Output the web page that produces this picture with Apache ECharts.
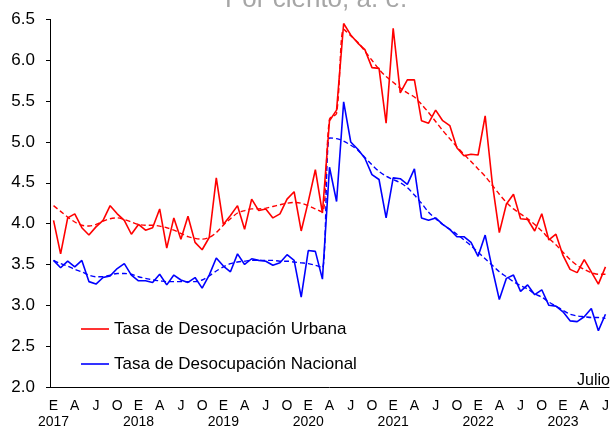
<!DOCTYPE html>
<html>
<head>
<meta charset="utf-8">
<script src="https://cdn.jsdelivr.net/npm/echarts@6/dist/echarts.min.js"></script>
<style>
  html, body { margin: 0; padding: 0; background: #fff; }
  #chart { width: 613px; height: 430px; }
</style>
</head>
<body>
<div id="chart"></div>
<script>
// monthly series, Jan 2017 .. Jul 2023
const years = [2017, 2018, 2019, 2020, 2021, 2022, 2023]
const monthLetters = ['E', 'F', 'M', 'A', 'M', 'J', 'J', 'A', 'S', 'O', 'N', 'D']
const lastMonth = 7

const urbana = [
  4.04, 3.63, 4.07, 4.12, 3.95, 3.86, 3.96, 4.04, 4.22, 4.12, 4.04, 3.87,
  3.99, 3.92, 3.95, 4.18, 3.70, 4.07, 3.81, 4.09, 3.77, 3.68, 3.83, 4.56,
  3.99, 4.10, 4.22, 3.93, 4.30, 4.16, 4.18, 4.07, 4.12, 4.30, 4.39, 3.91,
  4.27, 4.66, 4.13, 5.26, 5.39, 6.45, 6.31, 6.21, 6.13, 5.91, 5.90, 5.23,
  6.39, 5.60, 5.76, 5.76, 5.26, 5.23, 5.39, 5.26, 5.20, 4.93, 4.83, 4.85,
  4.84, 5.32, 4.50, 3.89, 4.24, 4.36, 4.06, 4.05, 3.91, 4.12, 3.80, 3.87,
  3.61, 3.44, 3.40, 3.56, 3.41, 3.26, 3.47
]
const nacional = [
  3.55, 3.46, 3.54, 3.47, 3.55, 3.29, 3.26, 3.34, 3.36, 3.45, 3.51, 3.37,
  3.30, 3.30, 3.28, 3.38, 3.25, 3.37, 3.31, 3.28, 3.34, 3.21, 3.37, 3.58,
  3.48, 3.41, 3.63, 3.50, 3.57, 3.55, 3.54, 3.49, 3.52, 3.62, 3.55, 3.10,
  3.67, 3.66, 3.32, 4.69, 4.27, 5.49, 5.00, 4.91, 4.80, 4.60, 4.54, 4.07,
  4.56, 4.55, 4.48, 4.67, 4.07, 4.04, 4.07, 3.99, 3.93, 3.84, 3.84, 3.77,
  3.60, 3.86, 3.45, 3.07, 3.33, 3.37, 3.17, 3.25, 3.13, 3.19, 3.00, 2.99,
  2.92, 2.81, 2.80, 2.86, 2.96, 2.69, 2.89
]
// tendencias (líneas punteadas)
const urbanaTend = [
  4.22, 4.15, 4.08, 4.02, 3.98, 3.97, 3.99, 4.03, 4.06, 4.07, 4.05, 4.02,
  3.99, 3.98, 3.98, 3.97, 3.95, 3.92, 3.88, 3.84, 3.82, 3.81, 3.83, 3.89,
  3.98, 4.06, 4.13, 4.16, 4.18, 4.18, 4.19, 4.21, 4.23, 4.25, 4.26, 4.25,
  4.22, 4.18, 4.14, 5.28, 5.35, 6.38, 6.30, 6.22, 6.11, 6.00, 5.89, 5.80,
  5.73, 5.66, 5.60, 5.55, 5.46, 5.36, 5.25, 5.14, 5.04, 4.94, 4.85, 4.76,
  4.67, 4.58, 4.47, 4.36, 4.26, 4.18, 4.12, 4.06, 3.99, 3.91, 3.82, 3.74,
  3.65, 3.56, 3.49, 3.44, 3.40, 3.38, 3.38
]
const nacionalTend = [
  3.55, 3.51, 3.48, 3.44, 3.41, 3.37, 3.35, 3.35, 3.37, 3.39, 3.39, 3.38,
  3.35, 3.33, 3.31, 3.30, 3.29, 3.29, 3.29, 3.29, 3.29, 3.31, 3.36, 3.42,
  3.47, 3.51, 3.53, 3.54, 3.55, 3.55, 3.55, 3.55, 3.54, 3.54, 3.53, 3.52,
  3.51, 3.49, 3.46, 5.05, 5.04, 5.01, 4.96, 4.90, 4.81, 4.72, 4.64, 4.58,
  4.54, 4.50, 4.44, 4.35, 4.25, 4.14, 4.06, 3.99, 3.93, 3.87, 3.80, 3.73,
  3.65, 3.57, 3.49, 3.41, 3.35, 3.29, 3.24, 3.20, 3.14, 3.10, 3.04, 2.99,
  2.94, 2.89, 2.87, 2.86, 2.85, 2.85, 2.84
]

const months = []
years.forEach(y => {
  for (let m = 1; m <= 12; m++) {
    if (y === years[years.length - 1] && m > lastMonth) break
    months.push(y + '-' + m)
  }
})

const font = "'Liberation Sans', Arial, sans-serif"
const RED = '#ff0000'
const BLUE = '#0000ff'

const myChart = echarts.init(document.getElementById('chart'), null, { renderer: 'canvas' })

const option = {
  animation: false,
  textStyle: { fontFamily: font, color: '#000' },
  grid: { left: 50, right: 4, top: 19.4, bottom: 38.6 },
  graphic: [
    {
      type: 'text', left: 225, top: -13,
      style: { text: 'Por ciento, a. e.', font: '26px ' + font, fill: '#a6a6a6' },
    },
    {
      type: 'text', right: 3, top: 373,
      style: { text: 'Julio', font: '16px ' + font, fill: '#000' },
    },
  ],
  legend: {
    data: ['Tasa de Desocupación Urbana', 'Tasa de Desocupación Nacional'],
    orient: 'vertical',
    icon: 'rect',
    left: 76,
    top: 314,
    itemWidth: 28,
    itemHeight: 1.6,
    itemGap: 15,
    textStyle: { fontSize: 17, lineHeight: 20, fontFamily: font, color: '#000' },
  },
  xAxis: {
    type: 'category',
    data: months,
    boundaryGap: true,
    axisLine: { lineStyle: { color: '#000', width: 1 } },
    axisTick: { interval: 2, length: 5, lineStyle: { color: '#000' } },
    axisLabel: {
      interval: 2,
      margin: 11,
      fontSize: 14,
      lineHeight: 16,
      color: '#000',
      formatter(value) {
        const [y, m] = value.split('-')
        const letter = monthLetters[Number(m) - 1]
        return m === '1' ? letter + '\n' + y : letter
      },
    },
    splitLine: { show: false },
  },
  yAxis: {
    type: 'value',
    min: 2,
    max: 6.5,
    interval: 0.5,
    axisLine: { show: true, lineStyle: { color: '#000', width: 1 } },
    axisTick: { show: true, length: 4, lineStyle: { color: '#000' } },
    axisLabel: {
      margin: 15,
      fontSize: 17,
      color: '#000',
      formatter: v => v.toFixed(1),
    },
    splitLine: { show: false },
  },
  series: [
    {
      name: 'Tasa de Desocupación Urbana',
      type: 'line',
      data: urbana,
      symbol: 'none',
      lineStyle: { color: RED, width: 1.6 },
      itemStyle: { color: RED },
      z: 3,
    },
    {
      name: 'Tasa de Desocupación Nacional',
      type: 'line',
      data: nacional,
      symbol: 'none',
      lineStyle: { color: BLUE, width: 1.6 },
      itemStyle: { color: BLUE },
      z: 3,
    },
    {
      name: 'Tendencia Urbana',
      type: 'line',
      data: urbanaTend,
      symbol: 'none',
      smooth: 0.3,
      lineStyle: { color: RED, width: 1.4, type: [5, 3] },
      z: 2,
    },
    {
      name: 'Tendencia Nacional',
      type: 'line',
      data: nacionalTend,
      symbol: 'none',
      smooth: 0.3,
      lineStyle: { color: BLUE, width: 1.4, type: [5, 3] },
      z: 2,
    },
  ],
}

myChart.setOption(option)
</script>
</body>
</html>
